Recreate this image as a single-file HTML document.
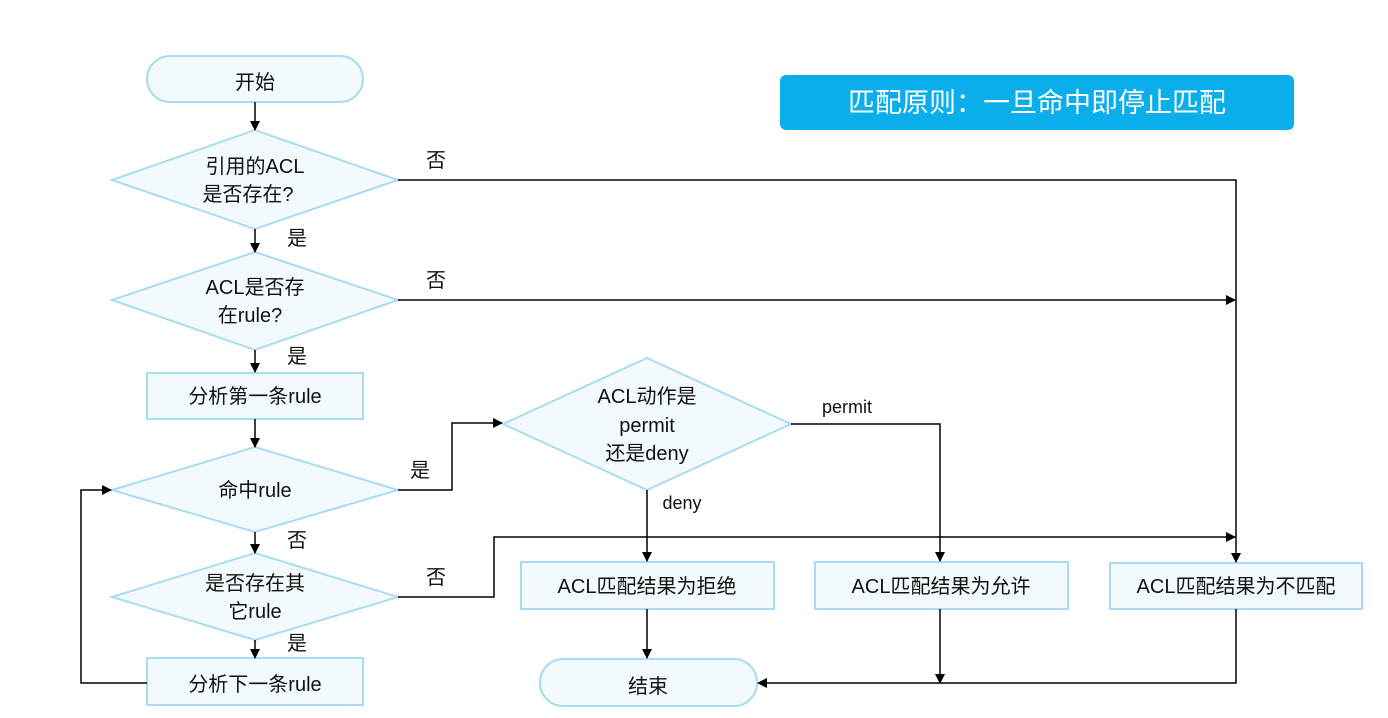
<!DOCTYPE html>
<html><head><meta charset="utf-8"><style>
body{margin:0;background:#fff}
svg text{font-family:"Liberation Sans","Noto Sans CJK SC",sans-serif;fill:#111}
</style></head><body>
<svg width="1388" height="713" viewBox="0 0 1388 713" xmlns="http://www.w3.org/2000/svg">
<defs><marker id="a" markerWidth="10" markerHeight="10" refX="9" refY="5" orient="auto" markerUnits="userSpaceOnUse"><path d="M0,0 L10,5 L0,10 z" fill="#000"/></marker></defs>
<g fill="#f3fafe" stroke="#a7dcf2" stroke-width="2">
<rect x="147" y="56" width="216" height="46" rx="23"/>
<polygon points="112,180 255,130 398,180 255,229"/>
<polygon points="112,300 255,252 398,300 255,350"/>
<rect x="147" y="373" width="216" height="46"/>
<polygon points="112,490 255,447 398,490 255,532"/>
<polygon points="112,597 255,553 398,597 255,640"/>
<rect x="147" y="658" width="216" height="47"/>
<polygon points="503,424 647,358 791,424 647,490"/>
<rect x="521" y="562" width="253" height="47"/>
<rect x="815" y="562" width="253" height="47"/>
<rect x="1110" y="563" width="252" height="46"/>
<rect x="540" y="659" width="217" height="47" rx="23"/>
</g>
<rect x="780" y="75" width="514" height="55" rx="6" fill="#0aaeea"/>
<g stroke="#000" stroke-width="1.5" fill="none" marker-end="url(#a)">
<path d="M255,102 V130"/>
<path d="M255,229 V252"/>
<path d="M255,350 V372"/>
<path d="M255,419 V447"/>
<path d="M255,532 V553"/>
<path d="M255,640 V658"/>
<path d="M398,180 H1236 V562"/>
<path d="M398,300 H1235"/>
<path d="M398,490 H452 V423 H502"/>
<path d="M791,424 H940 V561"/>
<path d="M647,490 V561"/>
<path d="M398,597 H494 V537 H1235"/>
<path d="M647,609 V658"/>
<path d="M940,609 V683"/>
<path d="M1236,609 V683 H758"/>
<path d="M147,683 H81 V490 H111"/>
</g>
<g font-size="20" text-anchor="middle">
<text x="255" y="89">开始</text>
<text x="255" y="173">引用的ACL</text>
<text x="248" y="201">是否存在?</text>
<text x="255" y="294">ACL是否存</text>
<text x="250" y="322">在rule?</text>
<text x="255" y="403">分析第一条rule</text>
<text x="255" y="497">命中rule</text>
<text x="255" y="590">是否存在其</text>
<text x="255" y="618">它rule</text>
<text x="255" y="691">分析下一条rule</text>
<text x="647" y="403">ACL动作是</text>
<text x="647" y="432">permit</text>
<text x="647" y="460">还是deny</text>
<text x="647" y="593">ACL匹配结果为拒绝</text>
<text x="941" y="593">ACL匹配结果为允许</text>
<text x="1236" y="593">ACL匹配结果为不匹配</text>
<text x="648" y="693">结束</text>
<text x="436" y="167">否</text>
<text x="436" y="287">否</text>
<text x="297" y="245">是</text>
<text x="297" y="363">是</text>
<text x="420" y="477">是</text>
<text x="297" y="547">否</text>
<text x="297" y="650">是</text>
<text x="436" y="584">否</text>
<text x="847" y="413" font-size="18">permit</text>
<text x="682" y="509" font-size="18">deny</text>
</g>
<text x="1037" y="112" font-size="27" text-anchor="middle" style="fill:#fff">匹配原则：一旦命中即停止匹配</text>
</svg>
</body></html>
